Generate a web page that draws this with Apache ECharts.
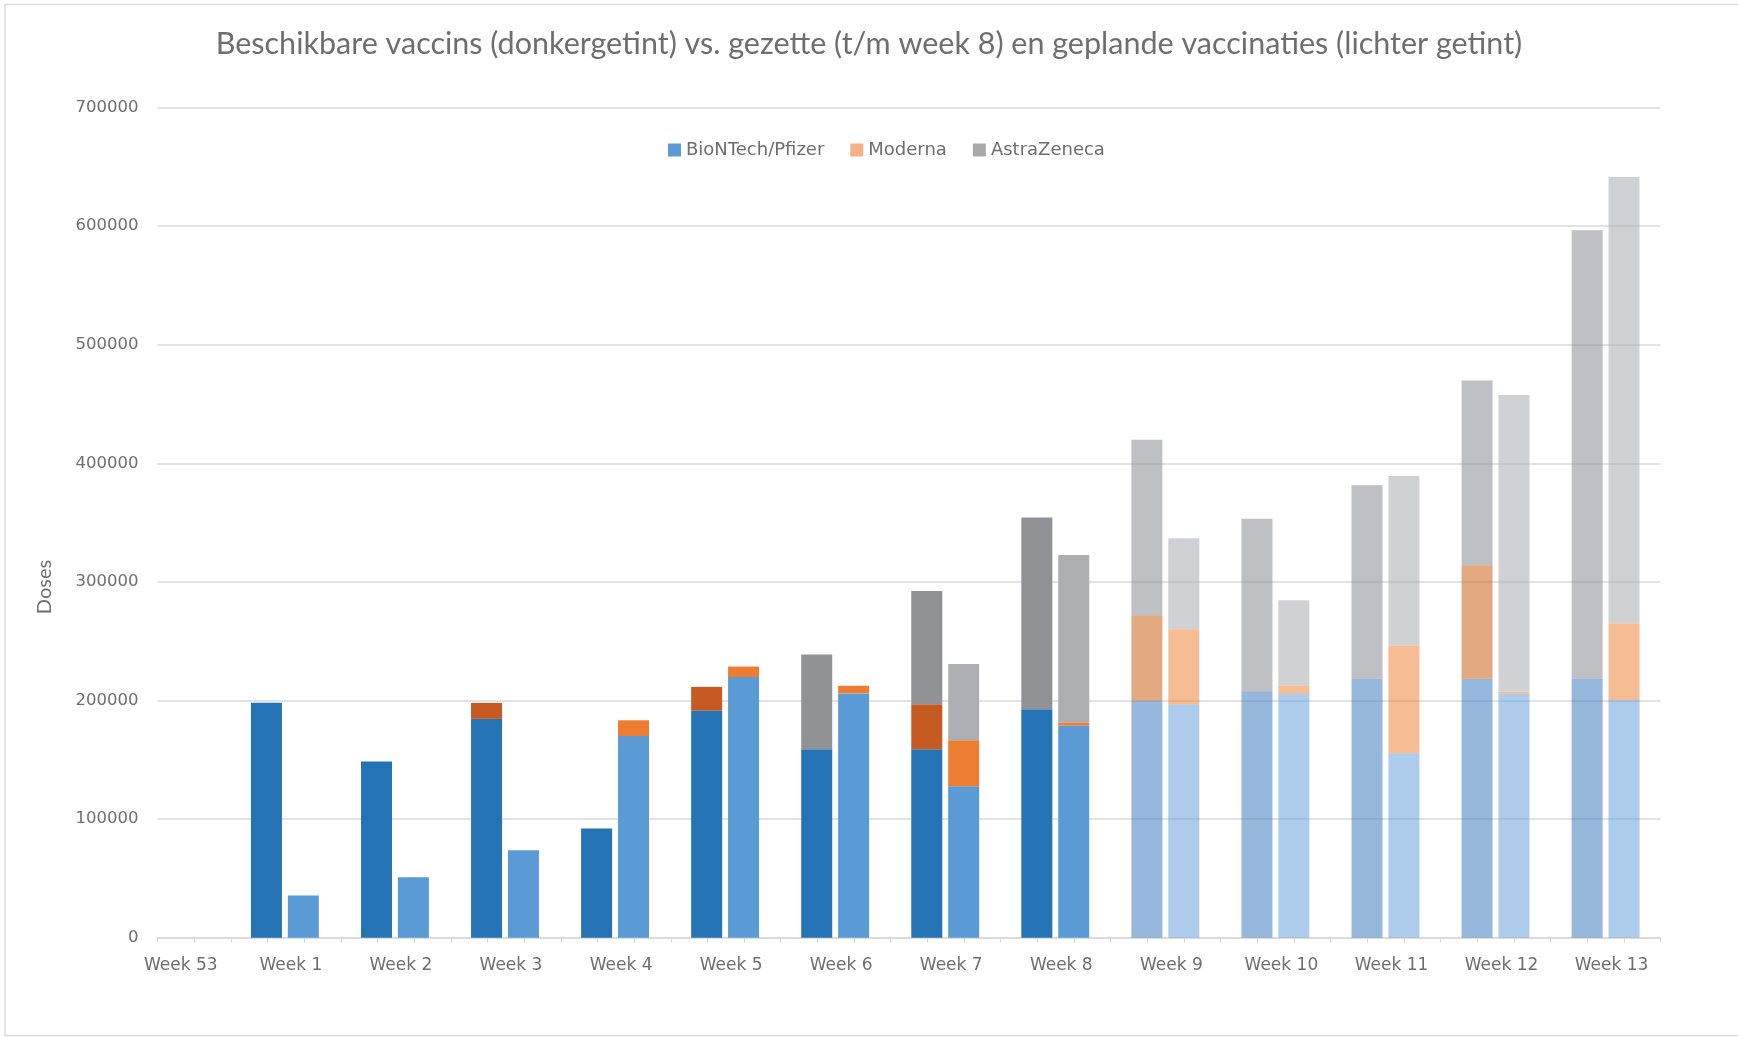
<!DOCTYPE html>
<html>
<head>
<meta charset="utf-8">
<script src="https://cdn.jsdelivr.net/npm/echarts@6/dist/echarts.min.js"></script>
<style>
html,body{margin:0;padding:0;background:#fff;}
#chart{width:1738px;height:1038px;}
</style>
</head>
<body>
<div id="chart"></div>
<script>
// ---- data ----
const weeks = ['Week 53','Week 1','Week 2','Week 3','Week 4','Week 5','Week 6','Week 7','Week 8','Week 9','Week 10','Week 11','Week 12','Week 13'];
// available (darker) stack
const availPfizer  = [0, 198000, 148500, 184500, 92000, 191500, 158800, 158800, 192600, 199700, 207800, 218300, 218300, 218300];
const availModerna = [0, 0, 0, 13500, 0, 20000, 0, 38000, 0, 72200, 0, 0, 95700, 0];
const availAZ      = [0, 0, 0, 0, 0, 0, 79900, 95600, 161800, 147900, 145400, 163100, 155900, 378300];
// administered / planned (lighter) stack
const givenPfizer  = [0, 35600, 51000, 73700, 170000, 219800, 206000, 127600, 178900, 196900, 205600, 155500, 205700, 200500];
const givenModerna = [0, 0, 0, 0, 13300, 8800, 6400, 38900, 2600, 63100, 7000, 90900, 1600, 64500];
const givenAZ      = [0, 0, 0, 0, 0, 0, 0, 64300, 141100, 76900, 71900, 142900, 250200, 376300];
const yTicks = [0, 100000, 200000, 300000, 400000, 500000, 600000, 700000];
const legendNames = ['BioNTech/Pfizer', 'Moderna', 'AstraZeneca'];
const firstPlannedWeek = 9; // index of Week 9: planned weeks drawn lighter

// ---- styles ----
const colors = {
  availPfizer:  {now:'#2473B5', later:'rgba(45,113,185,0.5)'},
  availModerna: {now:'#C55A22', later:'rgba(199,83,1,0.5)'},
  availAZ:      {now:'#919296', later:'rgba(127,129,135,0.5)'},
  givenPfizer:  {now:'#5B9BD5', later:'rgba(91,151,213,0.5)'},
  givenModerna: {now:'#ED7D31', later:'rgba(237,121,41,0.5)'},
  givenAZ:      {now:'#ADAEB1', later:'rgba(161,163,167,0.5)'}
};
const legendColors = ['#5B9BD5', '#F4B183', '#A9A9A9'];

function items(arr, c) {
  return arr.map((v, i) => ({
    value: v === 0 ? null : v,
    itemStyle: {color: i >= firstPlannedWeek ? c.later : c.now}
  }));
}

const gridTop = 107.5, gridBottom = 100.3, gridRight = 77.4;
const barW = 31;

function barSeries(name, stack, arr, c) {
  return {
    type: 'bar', name: name, stack: stack, xAxisIndex: 1, yAxisIndex: 1,
    barWidth: barW, barGap: '19%',
    data: items(arr, c), itemStyle: {color: c.now}, silent: true
  };
}

const chart = echarts.init(document.getElementById('chart'), null, {renderer: 'canvas'});
chart.setOption({
  animation: false,
  backgroundColor: '#ffffff',
  title: {
    text: 'Beschikbare vaccins (donkergetint) vs. gezette (t/m week 8) en geplande vaccinaties (lichter getint)',
    left: 'center', top: 24,
    textStyle: {fontFamily: 'Lato', fontSize: 30.5, fontWeight: 'normal', color: '#6e6e6e'}
  },
  legend: {
    top: 136, left: 663,
    itemWidth: 13, itemHeight: 13, itemGap: 26,
    icon: 'rect',
    textStyle: {fontFamily: 'DejaVu Sans', fontSize: 18, color: '#6e6e6e'},
    data: legendNames.map((n, i) => ({name: n, itemStyle: {color: legendColors[i]}}))
  },
  graphic: [
    {type: 'rect', shape: {x: 5, y: 4.5, width: 1760, height: 1031}, style: {fill: 'none', stroke: '#dcdcdc', lineWidth: 1.5}, silent: true},
    {type: 'text', x: 45, y: 587, rotation: Math.PI / 2,
     style: {text: 'Doses', fontFamily: 'Lato', fontSize: 20, fill: '#6e6e6e', align: 'center', verticalAlign: 'middle'}}
  ],
  grid: [
    {left: 157.5, right: gridRight, top: gridTop, bottom: gridBottom},
    {left: 119.8, right: gridRight, top: gridTop, bottom: gridBottom}
  ],
  xAxis: [
    {type: 'value', gridIndex: 0, min: 0, max: 41, interval: 1,
     axisLine: {show: true, lineStyle: {color: '#d9d9d9', width: 1.5}},
     axisTick: {show: true, length: 5, lineStyle: {color: '#d9d9d9'}},
     axisLabel: {show: false}, splitLine: {show: false}},
    {type: 'category', gridIndex: 1, data: weeks,
     axisLine: {show: false}, axisTick: {show: false},
     axisLabel: {interval: 0, margin: 19, fontFamily: 'DejaVu Sans', fontSize: 17, color: '#6e6e6e', padding: [0, 0, 0, 12]}}
  ],
  yAxis: [
    {type: 'value', gridIndex: 0, min: yTicks[0], max: yTicks[yTicks.length - 1], interval: yTicks[1] - yTicks[0],
     axisLine: {show: false}, axisTick: {show: false},
     axisLabel: {margin: 19, fontFamily: 'DejaVu Sans', fontSize: 16.5, color: '#6e6e6e', formatter: v => String(v)},
     splitLine: {lineStyle: {color: '#d9d9d9', width: 1.5}}},
    {type: 'value', gridIndex: 1, min: yTicks[0], max: yTicks[yTicks.length - 1], interval: yTicks[1] - yTicks[0],
     show: false, splitLine: {show: false}}
  ],
  series: [
    barSeries('BioNTech/Pfizer', 'avail', availPfizer, colors.availPfizer),
    barSeries('Moderna', 'avail', availModerna, colors.availModerna),
    barSeries('AstraZeneca', 'avail', availAZ, colors.availAZ),
    barSeries('BioNTech/Pfizer', 'given', givenPfizer, colors.givenPfizer),
    barSeries('Moderna', 'given', givenModerna, colors.givenModerna),
    barSeries('AstraZeneca', 'given', givenAZ, colors.givenAZ)
  ]
});
</script>
</body>
</html>
